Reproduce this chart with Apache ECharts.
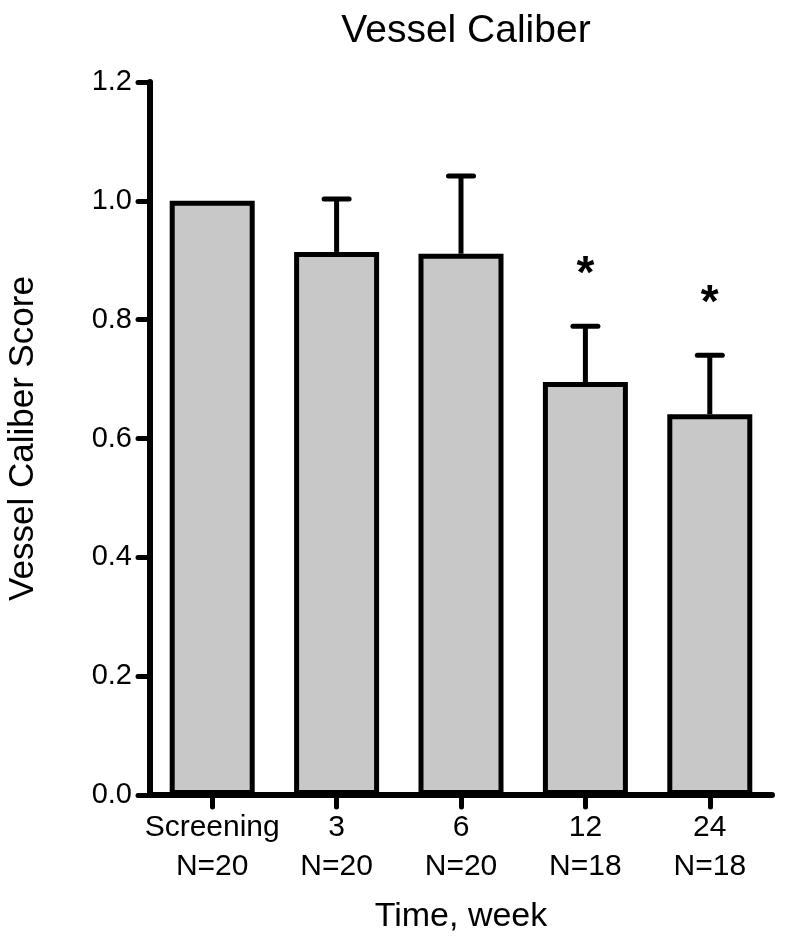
<!DOCTYPE html>
<html>
<head>
<meta charset="utf-8">
<script src="https://cdn.jsdelivr.net/npm/echarts@6/dist/echarts.min.js"></script>
<style>
html,body{margin:0;padding:0;background:#fff;}
#chart{width:785px;height:946px;}
</style>
</head>
<body>
<div id="chart"></div>
<script>
const categories = ['Screening', '3', '6', '12', '24'];
const sampleSizes = ['N=20', 'N=20', 'N=20', 'N=18', 'N=18'];
const meanValues = [1.0, 0.914, 0.911, 0.695, 0.641];
const errorTops = [1.0, 1.003, 1.042, 0.789, 0.740];
const significance = ['', '', '', '*', '*'];
const yTicks = [0, 0.2, 0.4, 0.6, 0.8, 1.0, 1.2];

const FONT = "'Liberation Sans', Arial, Helvetica, sans-serif";
const labels = categories.map((c, i) => c + '\n' + sampleSizes[i]);

const chart = echarts.init(document.getElementById('chart'), null, {renderer: 'canvas'});

const option = {
  backgroundColor: '#ffffff',
  animation: false,
  title: {
    text: 'Vessel Caliber',
    left: 461,
    textAlign: 'center',
    top: 7,
    textStyle: {fontFamily: FONT, fontSize: 39, fontWeight: 'normal', color: '#000'}
  },
  grid: {left: 150, right: 13, top: 82, bottom: 151, containLabel: false, outerBoundsMode: 'none'},
  xAxis: {
    type: 'category',
    data: labels,
    name: 'Time, week',
    nameLocation: 'middle',
    nameGap: 105,
    nameTextStyle: {fontFamily: FONT, fontSize: 34, color: '#000'},
    axisLine: {show: true, lineStyle: {color: '#000', width: 6}},
    axisTick: {show: true, alignWithLabel: true, length: 12, lineStyle: {color: '#000', width: 5, cap: 'round'}},
    axisLabel: {fontFamily: FONT, fontSize: 30, color: '#000', lineHeight: 39, margin: 13, interval: 0},
    splitLine: {show: false}
  },
  yAxis: {
    type: 'value',
    min: 0,
    max: 1.2,
    interval: 0.2,
    name: 'Vessel Caliber Score',
    nameLocation: 'middle',
    nameGap: 109,
    nameTextStyle: {fontFamily: FONT, fontSize: 35, color: '#000'},
    axisLine: {show: true, lineStyle: {color: '#000', width: 6}},
    axisTick: {show: true, length: 12, lineStyle: {color: '#000', width: 5, cap: 'round'}},
    axisLabel: {
      fontFamily: FONT, fontSize: 29, color: '#000', margin: 18,
      formatter: v => {
        const t = yTicks.find(x => Math.abs(x - v) < 1e-9);
        return (t !== undefined ? t : v).toFixed(1);
      }
    },
    splitLine: {show: false}
  },
  series: [
    {
      type: 'bar',
      data: meanValues,
      barWidth: 85,
      itemStyle: {color: '#c8c8c8', borderColor: '#000', borderWidth: 5},
      z: 2
    },
    {
      type: 'custom',
      z: 3,
      data: meanValues.map((m, i) => [i, m, errorTops[i]]),
      renderItem: function (params, api) {
        const i = api.value(0);
        const base = api.coord([i, api.value(1)]);
        const top = api.coord([i, api.value(2)]);
        const children = [];
        if (api.value(2) > api.value(1) + 1e-6) {
          children.push({
            type: 'line',
            shape: {x1: base[0], y1: base[1], x2: top[0], y2: top[1]},
            style: {stroke: '#000', lineWidth: 5}
          });
          children.push({
            type: 'line',
            shape: {x1: top[0] - 12.5, y1: top[1], x2: top[0] + 12.5, y2: top[1]},
            style: {stroke: '#000', lineWidth: 5, lineCap: 'round'}
          });
        }
        const s = significance[params.dataIndex];
        if (s) {
          children.push({
            type: 'text',
            x: top[0],
            y: top[1] - 51,
            style: {
              text: s, fontFamily: FONT, fontSize: 46, fontWeight: 'bold', fill: '#000',
              align: 'center', verticalAlign: 'middle'
            }
          });
        }
        return {type: 'group', children: children};
      }
    }
  ]
};
chart.setOption(option);
</script>
</body>
</html>
